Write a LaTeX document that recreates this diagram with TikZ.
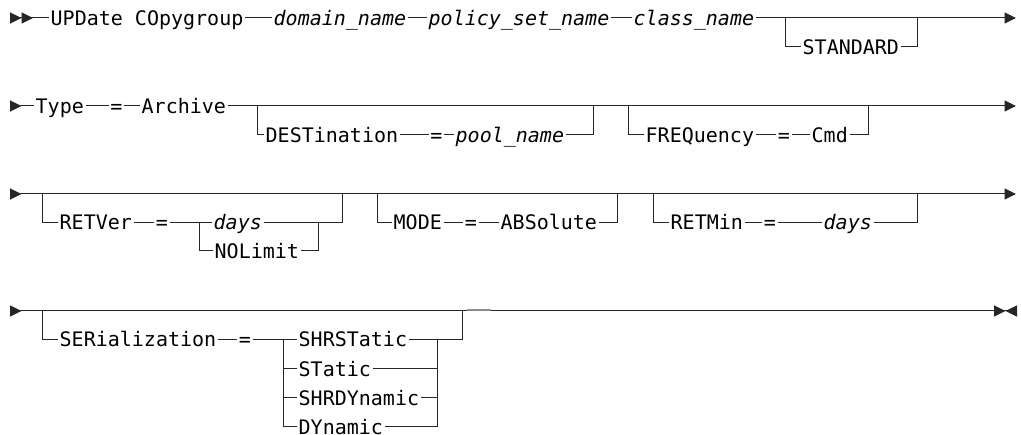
\documentclass[tikz,border=0pt]{standalone}
\usepackage{fontspec}
\newfontfamily\railfont{DejaVu Sans Mono}
\usetikzlibrary{arrows.meta}
\tikzset{
  railtip/.tip = {Triangle[length=11.5pt, width=11pt]},
  kw/.style    = {anchor=west, inner xsep=1.5pt, inner ysep=0pt,
                  font=\railfont\fontsize{20pt}{24pt}\selectfont,
                  text height=14.6pt, text depth=0pt},
  var/.style   = {kw, font=\railfont\fontsize{20pt}{24pt}\selectfont\itshape},
  eq/.style    = {kw, anchor=center},
  rail/.style  = {line width=1pt, draw=black!85}
}
\begin{document}
\begin{tikzpicture}[x=1pt, y=-1pt]
\useasboundingbox (0,0) rectangle (1021,435);
% row 1
\coordinate (s1) at (10,18);
\coordinate (e1) at (1016,18);
\coordinate (b1a) at (785,18);
\coordinate (b1b) at (917,18);
\node[kw] (upd) at (49,18) {UPDate COpygroup};
\node[var] (dom) at (272,18) {domain\_name};
\node[var] (pol) at (427,18) {policy\_set\_name};
\node[var] (cls) at (632,18) {class\_name};
\node[kw] (std) at (801,47) {STANDARD};
\draw[rail, {railtip[reversed]railtip[reversed]}-] (s1) -- (upd.west);
\draw[rail] (upd.east) -- (dom.west);
\draw[rail] (dom.east) -- (pol.west);
\draw[rail] (pol.east) -- (cls.west);
\draw[rail, -{railtip[]}] (cls.east) -- (e1);
\draw[rail] (b1a) |- (std.west);
\draw[rail] (std.east) -| (b1b);
% row 2
\coordinate (s2) at (10,106);
\coordinate (e2) at (1016,106);
\coordinate (b2a) at (257,106);
\coordinate (b2b) at (593,106);
\coordinate (b2c) at (628,106);
\coordinate (b2d) at (868,106);
\node[kw] (type) at (34,106) {Type};
\node[eq] (eqtype) at (116.5,106) {=};
\node[kw] (arch) at (140,106) {Archive};
\node[kw] (dest) at (264,135) {DESTination};
\node[eq] (eqdest) at (436.5,135) {=};
\node[var] (pool) at (454,135) {pool\_name};
\node[kw] (freq) at (644,135) {FREQuency};
\node[eq] (eqfreq) at (784,135) {=};
\node[kw] (cmd) at (810,135) {Cmd};
\draw[rail, {railtip[reversed]}-] (s2) -- (type.west);
\draw[rail] (type.east) -- (eqtype.west);
\draw[rail] (eqtype.east) -- (arch.west);
\draw[rail, -{railtip[]}] (arch.east) -- (e2);
\draw[rail] (b2a) |- (dest.west);
\draw[rail] (dest.east) -- (eqdest.west);
\draw[rail] (eqdest.east) -- (pool.west);
\draw[rail] (pool.east) -| (b2b);
\draw[rail] (b2c) |- (freq.west);
\draw[rail] (freq.east) -- (eqfreq.west);
\draw[rail] (eqfreq.east) -- (cmd.west);
\draw[rail] (cmd.east) -| (b2d);
% row 3
\coordinate (s3) at (10,194);
\coordinate (e3) at (1016,194);
\coordinate (b3a) at (42,194);
\coordinate (b3b) at (342,194);
\coordinate (c3a) at (199,222.5);
\coordinate (c3b) at (318,222.5);
\coordinate (b3c) at (377,194);
\coordinate (b3d) at (617,194);
\coordinate (b3e) at (653,194);
\coordinate (b3f) at (917,194);
\node[kw] (retver) at (58,222.5) {RETVer};
\node[eq] (eqretver) at (162,222.5) {=};
\node[var] (days) at (212,222.5) {days};
\node[kw] (nolimit) at (213,251) {NOLimit};
\node[kw] (mode) at (392,222.5) {MODE};
\node[eq] (eqmode) at (471,222.5) {=};
\node[kw] (abs) at (499,222.5) {ABSolute};
\node[kw] (retmin) at (669,222.5) {RETMin};
\node[eq] (eqretmin) at (770,222.5) {=};
\node[var] (daysmin) at (822,222.5) {days};
\draw[rail, {railtip[reversed]}-{railtip[]}] (s3) -- (e3);
\draw[rail] (b3a) |- (retver.west);
\draw[rail] (retver.east) -- (eqretver.west);
\draw[rail] (eqretver.east) -- (days.west);
\draw[rail] (days.east) -| (b3b);
\draw[rail] (c3a) |- (nolimit.west);
\draw[rail] (nolimit.east) -| (c3b);
\draw[rail] (b3c) |- (mode.west);
\draw[rail] (mode.east) -- (eqmode.west);
\draw[rail] (eqmode.east) -- (abs.west);
\draw[rail] (abs.east) -| (b3d);
\draw[rail] (b3e) |- (retmin.west);
\draw[rail] (retmin.east) -- (eqretmin.west);
\draw[rail] (eqretmin.east) -- (daysmin.west);
\draw[rail] (daysmin.east) -| (b3f);
% row 4
\coordinate (s4) at (10,311);
\coordinate (e4) at (1017,311);
\coordinate (b4a) at (42,311);
\coordinate (b4b) at (462,311);
\coordinate (c4a) at (283,339.5);
\coordinate (c4b) at (437,339.5);
\node[kw] (ser) at (58,339.5) {SERialization};
\node[eq] (eqser) at (245,339.5) {=};
\node[kw] (shrs) at (297,339.5) {SHRSTatic};
\node[kw] (stat) at (297,369) {STatic};
\node[kw] (shrd) at (297,398) {SHRDYnamic};
\node[kw] (dyn) at (297,427) {DYnamic};
\draw[rail, {railtip[reversed]}-{railtip[]railtip[reversed]}] (s4) -- (e4);
\draw[black!45, line width=1.4pt] (467,310.2) -- (491,310.2);
\draw[rail] (b4a) |- (ser.west);
\draw[rail] (ser.east) -- (eqser.west);
\draw[rail] (eqser.east) -- (shrs.west);
\draw[rail] (shrs.east) -| (b4b);
\draw[rail] (c4a) |- (stat.west);
\draw[rail] (c4a) |- (shrd.west);
\draw[rail] (c4a) |- (dyn.west);
\draw[rail] (stat.east) -| (c4b);
\draw[rail] (shrd.east) -| (c4b);
\draw[rail] (dyn.east) -| (c4b);
\end{tikzpicture}
\end{document}
